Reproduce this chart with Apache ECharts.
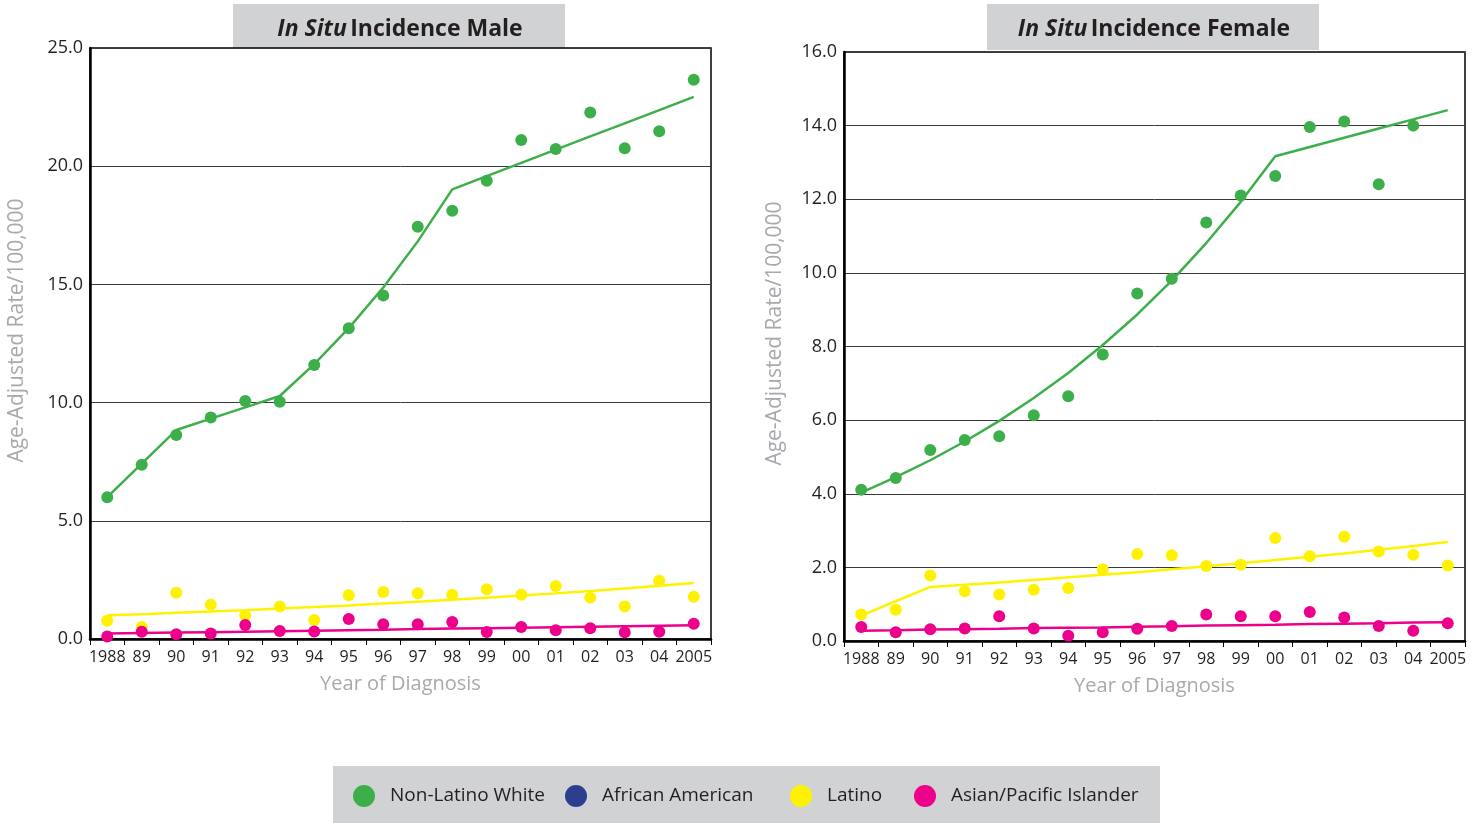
<!DOCTYPE html>
<html>
<head>
<meta charset="utf-8">
<script src="https://cdn.jsdelivr.net/npm/echarts@6/dist/echarts.min.js"></script>
<style>
html,body{margin:0;padding:0;background:#fff;}
#chart{width:1484px;height:823px;}
</style>
</head>
<body>
<div id="chart"></div>
<script>
// ---- data ----
const years = ['1988','89','90','91','92','93','94','95','96','97','98','99','00','01','02','03','04','2005'];
const seriesNames = ['Non-Latino White','African American','Latino','Asian/Pacific Islander'];
const yTicksMale = [0,5,10,15,20,25];
const yTicksFemale = [0,2,4,6,8,10,12,14,16];

// Male
const maleWhite     = [6.00,7.37,8.63,9.37,10.07,10.04,11.59,13.15,14.53,17.44,18.12,19.38,21.11,20.73,22.27,20.76,21.48,23.66];
const maleWhiteFit  = [6.00,7.42,8.84,9.32,9.80,10.28,11.63,13.15,14.87,16.82,19.02,19.58,20.14,20.70,21.26,21.81,22.37,22.93];
const maleLatino    = [0.77,0.51,1.96,1.45,0.99,1.37,0.80,1.85,1.99,1.94,1.87,2.10,1.87,2.24,1.75,1.37,2.46,1.79];
const maleLatinoFit = [1.00,1.05,1.11,1.16,1.22,1.29,1.35,1.42,1.50,1.58,1.66,1.75,1.84,1.93,2.03,2.14,2.25,2.37];
const maleAPI       = [0.11,0.31,0.20,0.23,0.59,0.34,0.32,0.85,0.62,0.62,0.72,0.30,0.51,0.37,0.45,0.28,0.31,0.65];
const maleAPIFit    = [0.23,0.25,0.27,0.29,0.31,0.33,0.35,0.37,0.39,0.42,0.44,0.46,0.48,0.50,0.52,0.54,0.56,0.58];

// Female
const femaleWhite     = [4.11,4.43,5.19,5.46,5.56,6.13,6.65,7.78,9.44,9.84,11.37,12.10,12.63,13.96,14.11,12.41,14.00,null];
const femaleWhiteFit  = [4.03,4.45,4.91,5.42,5.98,6.60,7.28,8.04,8.87,9.79,10.81,11.93,13.17,13.42,13.67,13.92,14.17,14.42];
const femaleLatino    = [0.72,0.85,1.78,1.35,1.26,1.39,1.44,1.95,2.36,2.33,2.04,2.07,2.80,2.30,2.83,2.43,2.34,2.05];
const femaleLatinoFit = [0.69,1.08,1.47,1.53,1.59,1.66,1.73,1.80,1.87,1.95,2.03,2.11,2.20,2.29,2.38,2.48,2.58,2.69];
const femaleAPI       = [0.38,0.24,0.32,0.34,0.67,0.34,0.14,0.24,0.33,0.41,0.72,0.67,0.67,0.79,0.64,0.41,0.28,0.48];
const femaleAPIFit    = [0.28,0.29,0.31,0.32,0.33,0.35,0.36,0.37,0.39,0.40,0.42,0.43,0.44,0.46,0.47,0.48,0.50,0.51];

// ---- styling ----
const C = {white:'#3daf4a', aa:'#2b3f8e', latino:'#fff200', api:'#ec008c'};
const FONT = "'Open Sans', 'Noto Sans', sans-serif";

function xAxis(gi){
  return {
    type:'category', gridIndex:gi, data:years, boundaryGap:true,
    name:'Year of Diagnosis', nameLocation:'middle', nameGap:35,
    nameTextStyle:{color:'#a7a9ac', fontSize:20, fontFamily:FONT},
    axisLine:{lineStyle:{color:'#000', width:2.5}},
    axisTick:{show:true, length:6, lineStyle:{color:'#000', width:1}},
    axisLabel:{interval:0, color:'#231f20', fontSize:16, fontFamily:FONT, margin:10, hideOverlap:false},
    splitLine:{show:false}
  };
}
function yAxis(gi, ticks, nameGap){
  return {
    type:'value', gridIndex:gi, min:ticks[0], max:ticks[ticks.length-1], interval:ticks[1]-ticks[0],
    name:'Age-Adjusted Rate/100,000', nameLocation:'middle', nameGap:nameGap,
    nameTextStyle:{color:'#a7a9ac', fontSize:21, fontFamily:FONT, padding:[0,0,0,26]},
    axisLine:{show:true, lineStyle:{color:'#000', width:2.5}},
    axisTick:{show:false},
    axisLabel:{color:'#231f20', fontSize:18, fontFamily:FONT, margin:7, formatter:v=>v.toFixed(1)},
    splitLine:{show:true, lineStyle:{color:'#3a3a3a', width:1}}
  };
}
function dots(name, data, gi, color){
  return {type:'scatter', name:name, xAxisIndex:gi, yAxisIndex:gi, data:data,
    symbol:'circle', symbolSize:12, itemStyle:{color:color, opacity:1}, z:4, silent:true};
}
function fit(name, data, gi, color){
  return {type:'line', name:name+' trend', xAxisIndex:gi, yAxisIndex:gi, data:data,
    showSymbol:false, symbol:'none', lineStyle:{color:color, width:2.5}, itemStyle:{color:color}, z:3, silent:true};
}
function legendItem(name, left){
  return {data:[name], left:left, top:785, padding:0, icon:'circle', itemWidth:22, itemHeight:22, itemGap:0,
    selectedMode:false, textStyle:{color:'#231f20', fontSize:19, fontFamily:FONT, padding:[0,0,0,10]}};
}
function titleText(x, label){
  return {type:'text', x:x, y:29, style:{
    text:'{i|In Situ} {b|' + label + '}', align:'center', verticalAlign:'middle',
    rich:{i:{fontSize:23, fontWeight:'bold', fontStyle:'italic', fill:'#231f20', fontFamily:FONT},
          b:{fontSize:23, fontWeight:'bold', fill:'#231f20', fontFamily:FONT}}}};
}

const chart = echarts.init(document.getElementById('chart'), null, {renderer:'canvas'});
chart.setOption({
  animation:false,
  backgroundColor:'#fff',
  grid:[
    {left:90, top:48, width:621, height:591, show:true, borderColor:'#000', borderWidth:1.5, backgroundColor:'transparent'},
    {left:844, top:52, width:621, height:589, show:true, borderColor:'#000', borderWidth:1.5, backgroundColor:'transparent'}
  ],
  xAxis:[xAxis(0), xAxis(1)],
  yAxis:[yAxis(0, yTicksMale, 62), yAxis(1, yTicksFemale, 58)],
  legend:[
    legendItem(seriesNames[0], 353),
    legendItem(seriesNames[1], 565),
    legendItem(seriesNames[2], 790),
    legendItem(seriesNames[3], 914)
  ],
  graphic:[
    {type:'rect', left:233, top:4, shape:{width:332, height:45}, style:{fill:'#d1d2d4'}, z:-1},
    titleText(400, 'Incidence Male'),
    {type:'rect', left:987, top:4, shape:{width:332, height:46}, style:{fill:'#d1d2d4'}, z:-1},
    titleText(1154, 'Incidence Female'),
    {type:'rect', left:333, top:766, shape:{width:827, height:57}, style:{fill:'#d1d2d4'}, z:-1}
  ],
  series:[
    fit(seriesNames[0], maleWhiteFit, 0, C.white),
    fit(seriesNames[2], maleLatinoFit, 0, C.latino),
    fit(seriesNames[3], maleAPIFit, 0, C.api),
    dots(seriesNames[0], maleWhite, 0, C.white),
    dots(seriesNames[1], [], 0, C.aa),
    dots(seriesNames[2], maleLatino, 0, C.latino),
    dots(seriesNames[3], maleAPI, 0, C.api),
    fit(seriesNames[0], femaleWhiteFit, 1, C.white),
    fit(seriesNames[2], femaleLatinoFit, 1, C.latino),
    fit(seriesNames[3], femaleAPIFit, 1, C.api),
    dots(seriesNames[0], femaleWhite, 1, C.white),
    dots(seriesNames[2], femaleLatino, 1, C.latino),
    dots(seriesNames[3], femaleAPI, 1, C.api)
  ]
});
</script>
</body>
</html>
